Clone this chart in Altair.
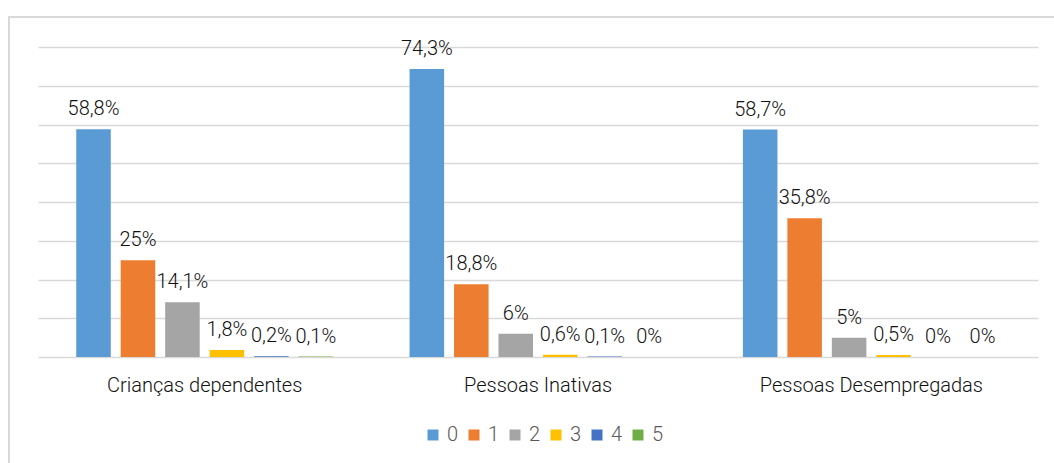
import altair as alt
import pandas as pd

# Share of households by number of dependants, per group
categories = ["Crianças dependentes", "Pessoas Inativas", "Pessoas Desempregadas"]
series = ["0", "1", "2", "3", "4", "5"]
values = {
    "Crianças dependentes": [58.8, 25, 14.1, 1.8, 0.2, 0.1],
    "Pessoas Inativas": [74.3, 18.8, 6, 0.6, 0.1, 0],
    "Pessoas Desempregadas": [58.7, 35.8, 5, 0.5, 0, 0],
}
colors = ["#5B9BD5", "#ED7D31", "#A5A5A5", "#FFC000", "#4472C4", "#70AD47"]
y_ticks = [0, 10, 20, 30, 40, 50, 60, 70, 80]

rows = []
for c in categories:
    for s, v in zip(series, values[c]):
        rows.append({"grupo": c, "n": s, "valor": v})
df = pd.DataFrame(rows)

FONT = "Roboto"
FS = 20
WEIGHT = 300
TEXT = "#111111"

x_enc = alt.X("grupo:N", sort=categories, title=None,
              scale=alt.Scale(paddingInner=0, paddingOuter=0),
              axis=alt.Axis(labelAngle=0, ticks=False, domain=False,
                            labelFontSize=FS, labelColor=TEXT,
                            labelFont=FONT, labelFontWeight=WEIGHT,
                            labelPadding=18, labelLimit=500))
xo_enc = alt.XOffset("n:N", sort=series,
                     scale=alt.Scale(paddingInner=0.223, paddingOuter=0.86))
y_enc = alt.Y("valor:Q", title=None,
              scale=alt.Scale(domain=[0, 80], nice=False),
              axis=alt.Axis(values=y_ticks, labels=False, ticks=False,
                            domain=False, grid=True, gridColor="#D9D9D9",
                            gridWidth=1.5))

base = alt.Chart(df)

# light outer frame around the whole chart
frame = base.mark_rect(fillOpacity=0, stroke="#D9D9D9", strokeWidth=2).encode(
    x=alt.value(-29), x2=alt.value(1030), y=alt.value(-30), y2=alt.value(430)
)

bars = base.mark_bar().encode(
    x=x_enc,
    xOffset=xo_enc,
    y=y_enc,
    color=alt.Color("n:N", sort=series, title=None,
                    scale=alt.Scale(domain=series, range=colors),
                    legend=alt.Legend(orient="none", direction="horizontal",
                                      legendX=385, legendY=378,
                                      symbolType="square", symbolSize=121,
                                      symbolStrokeWidth=0,
                                      labelFontSize=FS, labelColor="#595959",
                                      labelFont=FONT, labelFontWeight=WEIGHT,
                                      labelOffset=4, columnPadding=5)),
)

labels = base.mark_text(baseline="alphabetic", dy=-14, fontSize=FS,
                        font=FONT, fontWeight=WEIGHT, color=TEXT).encode(
    x=alt.X("grupo:N", sort=categories),
    xOffset=alt.XOffset("n:N", sort=series),
    y=y_enc,
    text="rotulo:N",
).transform_calculate(
    rotulo="replace(format(datum.valor, '.1~f'), '.', ',') + '%'"
)

chart = alt.layer(frame, bars, labels).properties(
    width=1000,
    height=310,
    autosize=alt.AutoSizeParams(type="none"),
    padding={"left": 38, "top": 47, "right": 16, "bottom": 106},
    background="white",
).configure_view(stroke=None)

chart.save("out.html", embed_options={"renderer": "svg", "actions": False})
